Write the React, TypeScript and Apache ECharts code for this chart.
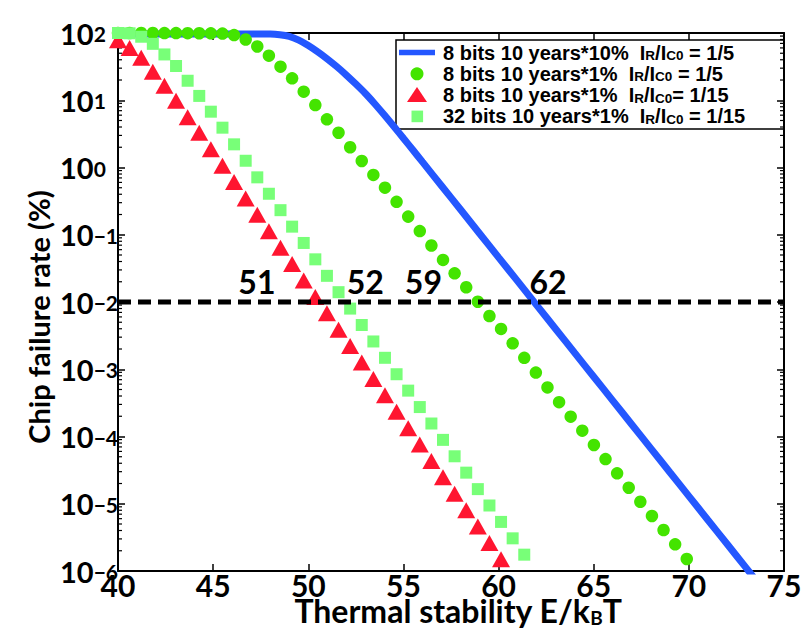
import React, { useEffect, useRef } from 'react';
import * as echarts from 'echarts';

// Thermal stability grid shared by the marker series
const thermalStability = [
  40.0, 40.61, 41.22, 41.83, 42.44, 43.05, 43.66, 44.27, 44.88, 45.49,
  46.1, 46.71, 47.32, 47.93, 48.54, 49.15, 49.76, 50.37, 50.98, 51.59,
  52.2, 52.81, 53.42, 54.03, 54.64, 55.25, 55.86, 56.47, 57.08, 57.69,
  58.3, 58.91, 59.52, 60.13, 60.74, 61.35, 61.96, 62.57, 63.18, 63.79,
  64.4, 65.01, 65.62, 66.23, 66.84, 67.45, 68.06, 68.67, 69.28, 69.89,
];

// 8 bits 10 years*10%, IR/IC0 = 1/5 (solid curve)
const blueX = [
  40, 44, 47, 48, 48.5, 49, 49.5, 50, 50.5, 51, 51.5, 52, 52.5, 53, 53.5, 54,
  54.5, 55, 55.5, 56, 57, 58, 59, 60, 61, 62, 63, 64, 65, 66, 67, 68, 69, 70,
  71, 72, 73, 73.4,
];
const blueY = [
  97, 97, 96.8, 96.6, 94.4, 89.1, 78.5, 65.3, 52.5, 41.2, 31.6, 23.7, 17.4,
  12.6, 8.81, 6.03, 4.07, 2.72, 1.82, 1.21, 0.536, 0.237, 0.1045, 0.0461,
  0.0204, 0.00899, 0.00397, 0.00175, 7.74e-4, 3.42e-4, 1.51e-4, 6.67e-5,
  2.94e-5, 1.3e-5, 5.74e-6, 2.54e-6, 1.12e-6, 8.07e-7,
];

// 8 bits 10 years*1%, IR/IC0 = 1/5 (circles)
const circleY = [
  99.9, 99.9, 99.9, 99.9, 99.8, 99.7, 99.5, 99.2, 98.8, 98, 93, 80, 63, 46,
  31.6, 21.2, 13.4, 8.49, 5.21, 3.29, 2.0, 1.25, 0.776, 0.501, 0.309, 0.186,
  0.1135, 0.0692, 0.0422, 0.0267, 0.01656, 0.01009, 0.00619, 0.00398,
  0.00243, 0.00148, 8.91e-4, 5.37e-4, 3.24e-4, 1.97e-4, 1.22e-4, 7.48e-5,
  4.62e-5, 2.83e-5, 1.73e-5, 1.07e-5, 6.58e-6, 4.07e-6, 2.49e-6, 1.51e-6,
];

// 8 bits 10 years*1%, IR/IC0 = 1/15 (triangles)
const triangleY = [
  78, 60, 43, 26.6, 16.4, 9.8, 5.6, 3.28, 1.87, 1.06, 0.608, 0.347, 0.198,
  0.113, 0.0643, 0.0366, 0.0209, 0.0119, 0.00679, 0.00387, 0.00221, 0.00126,
  7.18e-4, 4.09e-4, 2.33e-4, 1.33e-4, 7.59e-5, 4.32e-5, 2.47e-5, 1.41e-5,
  8.02e-6, 4.57e-6, 2.61e-6, 1.49e-6,
];

// 32 bits 10 years*1%, IR/IC0 = 1/15 (squares)
const squareY = [
  100, 99, 88, 69, 48, 32.3, 19.5, 11.6, 6.76, 3.91, 2.21, 1.26, 0.714,
  0.407, 0.232, 0.132, 0.0755, 0.0431, 0.0245, 0.014, 0.00798, 0.00455,
  0.00259, 0.00148, 8.43e-4, 4.81e-4, 2.74e-4, 1.56e-4, 8.91e-5, 5.08e-5,
  2.9e-5, 1.65e-5, 9.42e-6, 5.37e-6, 3.06e-6, 1.75e-6,
];

// 0.01 % failure criterion and the stability values read at it
const criterion = 0.01;
const criterionX = [40, 75];
const crossingText = ['51', '52', '59', '62'];
const crossingLabelX = [47.3, 53.0, 56.05, 62.6];
const crossingLabelY = 0.0205;

// Log-axis minor tick positions
const minorMantissas = [2, 3, 4, 5, 6, 7, 8, 9];
const minorDecades = [-6, -5, -4, -3, -2, -1, 0, 1];

const BLUE = '#2457FF';
const GREEN = '#44E400';
const RED = '#FF1530';
const LIGHT_GREEN = '#78FF78';
const AXIS_FONT = 'Lato';
const LEGEND_FONT = 'Liberation Sans';

const pairs = (xs: number[], ys: number[]) => ys.map((y, i) => [xs[i], y]);

function buildOption(): echarts.EChartsCoreOption {
  const minorTicks: number[][] = [];
  minorDecades.forEach((d) =>
    minorMantissas.forEach((m) => minorTicks.push([40, m * Math.pow(10, d)]))
  );

  const axisLine = { show: true, lineStyle: { color: '#000', width: 2 } };
  const tick = { show: true, inside: true, length: 7, lineStyle: { color: '#000', width: 1.5 } };

  const legendRich = {
    s: { fontFamily: LEGEND_FONT, fontWeight: 'bold', fontSize: 13.5, fill: '#000', verticalAlign: 'bottom' },
  };
  const legendRows = [
    '8 bits 10 years*10%  I{s|R}/I{s|C0} = 1/5',
    '8 bits 10 years*1%  I{s|R}/I{s|C0} = 1/5',
    '8 bits 10 years*1%  I{s|R}/I{s|C0}= 1/15',
    '32 bits 10 years*1%  I{s|R}/I{s|C0} = 1/15',
  ];
  const rowY = [52.5, 73.8, 95.1, 116.4];

  return {
    animation: false,
    backgroundColor: '#fff',
    grid: { left: 118, right: 23, top: 33, bottom: 62, outerBoundsMode: 'none', containLabel: false },
    xAxis: [
      {
        type: 'value',
        min: 40,
        max: 75,
        interval: 5,
        position: 'bottom',
        axisLine,
        axisTick: tick,
        splitLine: { show: false },
        axisLabel: {
          color: '#000',
          fontFamily: AXIS_FONT,
          fontWeight: 'bold',
          fontSize: 30,
          lineHeight: 24,
          margin: 2,
        },
        name: 'Thermal stability E/k{sub|B}T',
        nameLocation: 'middle',
        nameGap: 23,
        nameMoveOverlap: false,
        nameTextStyle: {
          color: '#000',
          fontFamily: AXIS_FONT,
          fontWeight: 'bold',
          fontSize: 32,
          verticalAlign: 'top',
          padding: [0, 0, 0, 14],
          rich: {
            sub: { fontFamily: AXIS_FONT, fontWeight: 'bold', fontSize: 19, color: '#000', padding: [14, 0, 0, 0] },
          },
        },
      },
      {
        type: 'value',
        min: 40,
        max: 75,
        interval: 5,
        position: 'top',
        axisLine,
        axisTick: tick,
        axisLabel: { show: false },
        splitLine: { show: false },
      },
    ],
    yAxis: [
      {
        type: 'log',
        logBase: 10,
        min: 1e-6,
        max: 100,
        splitNumber: 8,
        position: 'left',
        axisLine,
        axisTick: tick,
        splitLine: { show: false },
        minorTick: { show: false },
        axisLabel: {
          align: 'left',
          margin: 58,
          formatter: (v: number) => {
            const e = Math.round(Math.log10(v));
            return `{b|10}{s|${e < 0 ? '\u2212' + -e : e}}`;
          },
          rich: {
            b: { fontFamily: AXIS_FONT, fontWeight: 'bold', fontSize: 29, color: '#000', lineHeight: 20 },
            s: { fontFamily: AXIS_FONT, fontWeight: 'bold', fontSize: 21, color: '#000', lineHeight: 10, verticalAlign: 'top' },
          },
        },
      },
      {
        type: 'log',
        logBase: 10,
        min: 1e-6,
        max: 100,
        splitNumber: 8,
        position: 'right',
        axisLine,
        axisTick: tick,
        axisLabel: { show: false },
        splitLine: { show: false },
      },
    ],
    series: [
      {
        type: 'custom',
        name: 'minor ticks',
        xAxisIndex: 0,
        yAxisIndex: 0,
        silent: true,
        clip: false,
        data: minorTicks,
        renderItem: (params: any, api: any) => {
          const y = api.coord([api.value(0), api.value(1)])[1];
          const cs = params.coordSys;
          const st = { stroke: '#000', lineWidth: 1.2 };
          return {
            type: 'group',
            children: [
              { type: 'line', shape: { x1: cs.x, y1: y, x2: cs.x + 4, y2: y }, style: st },
              { type: 'line', shape: { x1: cs.x + cs.width - 4, y1: y, x2: cs.x + cs.width, y2: y }, style: st },
            ],
          };
        },
        z: 1,
      },
      {
        type: 'line',
        name: '8 bits 10 years*10%',
        data: pairs(blueX, blueY),
        showSymbol: false,
        symbol: 'none',
        smooth: 0.2,
        lineStyle: { color: BLUE, width: 7 },
        z: 2,
      },
      {
        type: 'scatter',
        name: '8 bits 10 years*1% 1/5',
        data: pairs(thermalStability, circleY),
        symbol: 'circle',
        symbolSize: 12.5,
        itemStyle: { color: GREEN, opacity: 1 },
        z: 3,
      },
      {
        type: 'scatter',
        name: '8 bits 10 years*1% 1/15',
        data: pairs(thermalStability, triangleY),
        symbol: 'triangle',
        symbolSize: [18, 16],
        itemStyle: { color: RED, opacity: 1 },
        z: 4,
      },
      {
        type: 'scatter',
        name: '32 bits 10 years*1% 1/15',
        data: pairs(thermalStability, squareY),
        symbol: 'rect',
        symbolSize: 12,
        itemStyle: { color: LIGHT_GREEN, opacity: 1 },
        z: 5,
      },
      {
        type: 'line',
        name: 'criterion',
        data: criterionX.map((x) => [x, criterion]),
        symbol: 'none',
        lineStyle: { color: '#000', width: 5, type: [13, 7] },
        z: 6,
      },
      {
        type: 'scatter',
        name: 'crossings',
        data: crossingText.map((t, i) => ({ name: t, value: [crossingLabelX[i], crossingLabelY] })),
        symbolSize: 0,
        itemStyle: { color: '#000', opacity: 1 },
        label: {
          show: true,
          position: 'inside',
          formatter: (p: any) => p.name,
          color: '#000',
          textBorderWidth: 0,
          fontFamily: AXIS_FONT,
          fontWeight: 'bold',
          fontSize: 32,
        },
        z: 7,
      },
    ],
    graphic: [
      {
        // y-axis title, rotated to read bottom-to-top
        type: 'text',
        x: 38,
        y: 317,
        rotation: Math.PI / 2,
        style: {
          text: 'Chip failure rate (%)',
          fill: '#000',
          fontFamily: AXIS_FONT,
          fontWeight: 'bold',
          fontSize: 29,
          align: 'center',
          verticalAlign: 'middle',
        },
      },
      {
        type: 'group',
        z: 100,
        children: [
          { type: 'rect', shape: { x: 396, y: 40, width: 388, height: 89 }, style: { fill: '#fff', stroke: '#000', lineWidth: 1.5 } },
          { type: 'line', shape: { x1: 399, y1: rowY[0], x2: 435, y2: rowY[0] }, style: { stroke: BLUE, lineWidth: 5.5 } },
          { type: 'circle', shape: { cx: 417, cy: rowY[1], r: 6.5 }, style: { fill: GREEN } },
          { type: 'polygon', shape: { points: [[417, rowY[2] - 8], [407, rowY[2] + 7], [427, rowY[2] + 7]] }, style: { fill: RED } },
          { type: 'rect', shape: { x: 411.5, y: rowY[3] - 5.8, width: 11.6, height: 11.6 }, style: { fill: LIGHT_GREEN } },
          ...legendRows.map((t, i) => ({
            type: 'text',
            x: 443,
            y: rowY[i],
            style: {
              text: t,
              fill: '#000',
              fontFamily: LEGEND_FONT,
              fontWeight: 'bold',
              fontSize: 20,
              lineHeight: 20,
              verticalAlign: 'middle',
              rich: legendRich,
            },
          })),
        ],
      },
    ],
  };
}

export default function App() {
  const ref = useRef<HTMLDivElement>(null);
  useEffect(() => {
    if (!ref.current) return;
    const chart = echarts.init(ref.current, null, { renderer: 'svg' });
    chart.setOption(buildOption());
    return () => chart.dispose();
  }, []);
  return (
    <div
      ref={ref}
      style={{ position: 'fixed', left: 0, top: 0, width: 807, height: 633, background: '#fff' }}
    />
  );
}
